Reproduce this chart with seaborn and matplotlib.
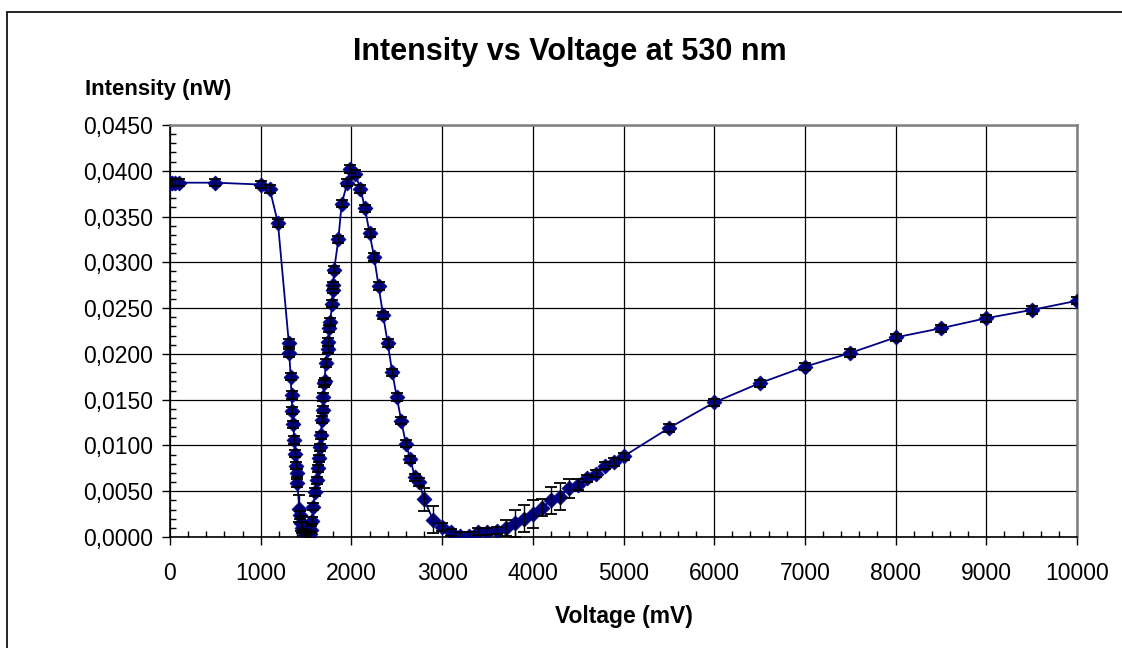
import numpy as np
import pandas as pd
import seaborn as sns
import matplotlib
matplotlib.use("Agg")
import matplotlib.pyplot as plt
from matplotlib.ticker import MultipleLocator, FuncFormatter
from matplotlib.lines import Line2D

# ---- data ----
voltage_mv = [0, 25, 50, 100, 500, 1000, 1100, 1190,
              1310, 1315, 1330, 1340, 1350, 1360, 1370, 1380, 1385, 1395, 1405,
              1425, 1435, 1440, 1460, 1480, 1500, 1520, 1540, 1550,
              1563, 1580, 1600, 1617, 1635, 1646, 1654, 1665, 1673, 1684, 1691,
              1698, 1705, 1716, 1739, 1745, 1753, 1764, 1790, 1795, 1800, 1810,
              1856, 1893, 1955, 1990, 2040,
              2100, 2150, 2200, 2250, 2300, 2350, 2400, 2450, 2500, 2550, 2600,
              2650, 2700, 2750, 2800, 2900, 3000, 3100, 3200, 3300, 3400, 3500,
              3600, 3700, 3800, 3900, 4000, 4100, 4200, 4300, 4400, 4500, 4600,
              4700, 4800, 4900, 5000, 5500, 6000, 6500, 7000, 7500, 8000, 8500,
              9000, 9500, 10000]
intensity_nw = [0.0387, 0.0387, 0.0387, 0.0387, 0.0387, 0.0385, 0.0380, 0.0343,
                0.0212, 0.0201, 0.0175, 0.0155, 0.0138, 0.0123, 0.0106, 0.0091, 0.0078, 0.0070, 0.0059,
                0.0031, 0.0024, 0.0015, 0.0010, 0.0005, 0.0002, 0.0001, 0.0003, 0.0008,
                0.0018, 0.0033, 0.0049, 0.0062, 0.0075, 0.0086, 0.0098, 0.0111, 0.0128, 0.0139, 0.0153,
                0.0168, 0.0170, 0.0190, 0.0205, 0.0213, 0.0228, 0.0235, 0.0255, 0.0270, 0.0275, 0.0292,
                0.0325, 0.0364, 0.0387, 0.0402, 0.0397,
                0.0380, 0.0359, 0.0332, 0.0306, 0.0274, 0.0242, 0.0212, 0.0180, 0.0153, 0.0127, 0.0102,
                0.0085, 0.0065, 0.0060, 0.0041, 0.0019, 0.0011, 0.0005, 0.0001, 0.0001, 0.0006, 0.0006,
                0.0007, 0.0010, 0.0015, 0.0020, 0.0025, 0.0032, 0.0040, 0.0044, 0.0053, 0.0057, 0.0064,
                0.0069, 0.0078, 0.0082, 0.0088, 0.0119, 0.0147, 0.0168, 0.0186, 0.0201, 0.0218, 0.0228,
                0.0239, 0.0248, 0.0258]
error_nw = [0.0004] * len(voltage_mv)
big_errors = {1425: 0.0015, 1440: 0.0008, 1460: 0.0006, 2800: 0.0013, 2900: 0.0015,
              3700: 0.0009, 3800: 0.0015, 3900: 0.0015, 4000: 0.0015, 4100: 0.0009,
              4200: 0.0015, 4300: 0.0015, 4400: 0.0010, 4500: 0.0006}
for i, v in enumerate(voltage_mv):
    if v in big_errors:
        error_nw[i] = big_errors[v]

df = pd.DataFrame({"Voltage (mV)": voltage_mv, "Intensity (nW)": intensity_nw, "err": error_nw})

# ---- style ----
sns.set_theme(style="white")
plt.rcParams["font.family"] = ["Liberation Sans", "DejaVu Sans"]
plt.rcParams["text.color"] = "black"

W, H = 1122, 648
fig = plt.figure(figsize=(W / 100, H / 100), dpi=100)
ax = fig.add_axes([170 / W, 1 - 537 / H, (1077 - 170) / W, (537 - 125) / H])

navy = "#000080"
sns.lineplot(data=df, x="Voltage (mV)", y="Intensity (nW)", ax=ax, color=navy,
             linewidth=1.3, sort=False, estimator=None, zorder=3)
sns.scatterplot(data=df, x="Voltage (mV)", y="Intensity (nW)", ax=ax, color=navy,
                marker="D", s=58, edgecolor=navy, linewidth=0.5, zorder=4)
ax.errorbar(df["Voltage (mV)"], df["Intensity (nW)"], yerr=df["err"], fmt="none",
            ecolor="black", elinewidth=1.0, capsize=4.5, capthick=1.3, zorder=5)

ax.set_xlim(0, 10000)
ax.set_ylim(0, 0.045)
ax.xaxis.set_major_locator(MultipleLocator(1000))
ax.xaxis.set_minor_locator(MultipleLocator(200))
ax.yaxis.set_major_locator(MultipleLocator(0.005))
ax.yaxis.set_minor_locator(MultipleLocator(0.001))
ax.yaxis.set_major_formatter(FuncFormatter(lambda v, p: f"{v:.4f}".replace(".", ",")))
ax.xaxis.set_major_formatter(FuncFormatter(lambda v, p: f"{int(round(v))}"))

ax.grid(True, which="major", color="black", linewidth=0.9)
ax.set_axisbelow(True)
ax.tick_params(which="major", direction="out", length=6, width=1, color="black",
               labelsize=16.5, labelcolor="black", bottom=True, left=True)
ax.tick_params(axis="x", which="major", pad=12)
ax.tick_params(axis="y", which="major", pad=6)
ax.tick_params(which="minor", direction="in", length=4, width=1, color="black",
               bottom=True, left=True)

for side in ["left", "bottom"]:
    ax.spines[side].set_color("black")
    ax.spines[side].set_linewidth(1.2)
for side in ["top", "right"]:
    ax.spines[side].set_visible(True)
    ax.spines[side].set_color("#808080")
    ax.spines[side].set_linewidth(1.8)

ax.set_xlabel("")
ax.set_ylabel("")

fig.text(570 / W, 1 - 52 / H, "Intensity vs Voltage at 530 nm", ha="center", va="center",
         fontsize=22, fontweight="bold", color="black")
fig.text(85 / W, 1 - 89 / H, "Intensity (nW)", ha="left", va="center",
         fontsize=16, fontweight="bold", color="black")
fig.text(624 / W, 1 - 617 / H, "Voltage (mV)", ha="center", va="center",
         fontsize=16.5, fontweight="bold", color="black")

# outer chart-area frame (only the left and top edges fall inside the image)
top_y = 1 - 12 / H
left_x = 7 / W
fig.add_artist(Line2D([left_x, 1.0], [top_y, top_y], transform=fig.transFigure,
                      color="black", linewidth=1.2))
fig.add_artist(Line2D([left_x, left_x], [0.0, top_y], transform=fig.transFigure,
                      color="black", linewidth=1.2))

fig.savefig("out.png", dpi=100)
